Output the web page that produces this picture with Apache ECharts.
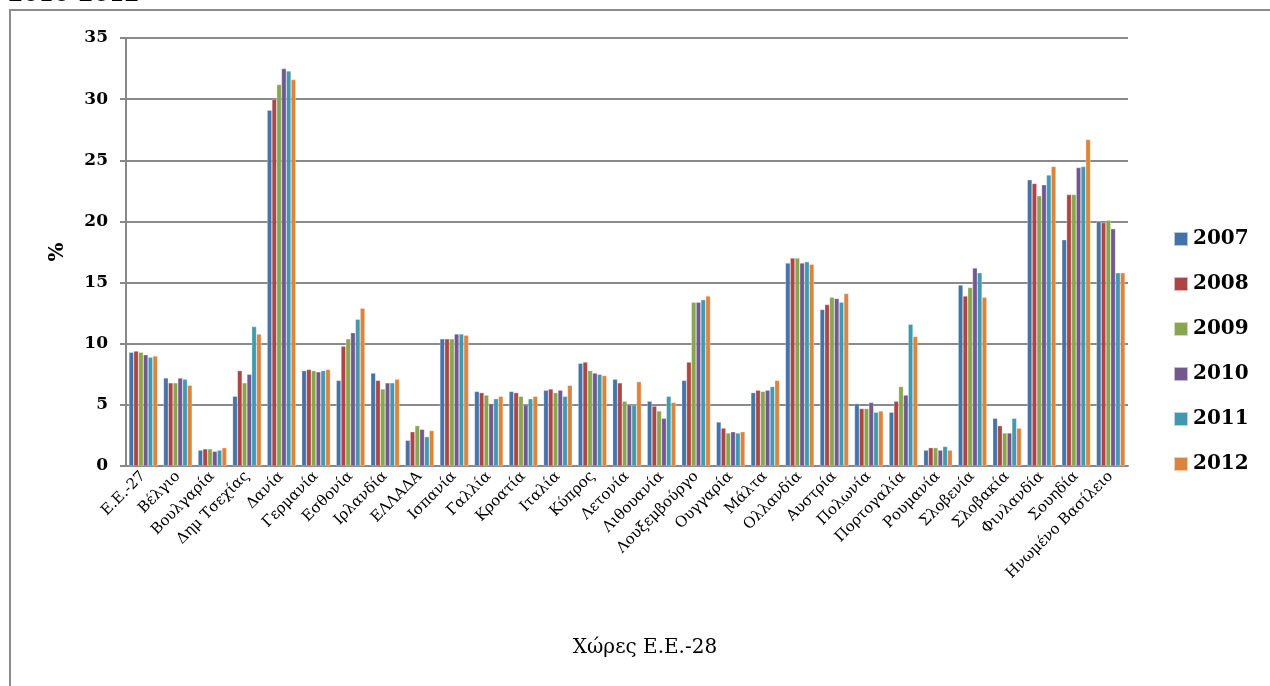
<!DOCTYPE html>
<html>
<head>
<meta charset="utf-8">
<script src="https://cdn.jsdelivr.net/npm/echarts@6/dist/echarts.min.js"></script>
<style>
html,body{margin:0;padding:0;background:#fff;}
#c{width:1270px;height:686px;}
</style>
</head>
<body>
<div id="c"></div>
<script>
const categories = ["Ε.Ε.-27","Βέλγιο","Βουλγαρία","Δημ Τσεχίας","Δανία","Γερμανία","Εσθονία","Ιρλανδία","ΕΛΛΑΔΑ","Ισπανία","Γαλλία","Κροατία","Ιταλία","Κύπρος","Λετονία","Λιθουανία","Λουξεμβούργο","Ουγγαρία","Μάλτα","Ολλανδία","Αυστρία","Πολωνία","Πορτογαλία","Ρουμανία","Σλοβενία","Σλοβακία","Φινλανδία","Σουηδία","Ηνωμένο Βασίλειο"];
const years = ["2007","2008","2009","2010","2011","2012"];
const v2007 = [9.3,7.2,1.3,5.7,29.1,7.8,7.0,7.6,2.1,10.4,6.1,6.1,6.2,8.4,7.1,5.3,7.0,3.6,6.0,16.6,12.8,5.1,4.4,1.3,14.8,3.9,23.4,18.5,20.0];
const v2008 = [9.4,6.8,1.4,7.8,30.0,7.9,9.8,7.0,2.8,10.4,6.0,6.0,6.3,8.5,6.8,4.9,8.5,3.1,6.2,17.0,13.2,4.7,5.3,1.5,13.9,3.3,23.1,22.2,19.9];
const v2009 = [9.3,6.8,1.4,6.8,31.2,7.8,10.4,6.3,3.3,10.4,5.8,5.7,6.0,7.8,5.3,4.5,13.4,2.7,6.1,17.0,13.8,4.7,6.5,1.5,14.6,2.7,22.1,22.2,20.1];
const v2010 = [9.1,7.2,1.2,7.5,32.5,7.7,10.9,6.8,3.0,10.8,5.1,5.0,6.2,7.6,5.0,3.9,13.4,2.8,6.2,16.6,13.7,5.2,5.8,1.3,16.2,2.7,23.0,24.4,19.4];
const v2011 = [8.9,7.1,1.3,11.4,32.3,7.8,12.0,6.8,2.4,10.8,5.5,5.5,5.7,7.5,5.0,5.7,13.6,2.7,6.5,16.7,13.4,4.4,11.6,1.6,15.8,3.9,23.8,24.5,15.8];
const v2012 = [9.0,6.6,1.5,10.8,31.6,7.9,12.9,7.1,2.9,10.7,5.7,5.7,6.6,7.4,6.9,5.2,13.9,2.8,7.0,16.5,14.1,4.5,10.6,1.3,13.8,3.1,24.5,26.7,15.8];
const yTicks = [0,5,10,15,20,25,30,35];
const colors = ["#4572A7","#AA4643","#89A54E","#71588F","#4198AF","#DB843D"];
const seriesData = [v2007,v2008,v2009,v2010,v2011,v2012];

const FONT = "'DejaVu Serif', 'Liberation Serif', serif";
const chart = echarts.init(document.getElementById('c'));
chart.setOption({
  animation: false,
  color: colors,
  textStyle: {fontFamily: FONT},
  graphic: [{
    type: 'rect', silent: true, z: -1,
    shape: {x: 10, y: 10, width: 1300, height: 700},
    style: {fill: 'none', stroke: '#8c8c8c', lineWidth: 2}
  }, {
    type: 'text', silent: true, left: 8, top: -16,
    style: {text: "2010-2012", font: "bold 22px 'DejaVu Serif', serif", fill: '#000'}
  }],
  legend: {
    orient: 'vertical', left: 1168, top: 224,
    itemWidth: 14, itemHeight: 14, itemGap: 25,
    icon: 'rect',
    textStyle: {fontFamily: FONT, fontSize: 20, fontWeight: 'bold', color: '#000'},
    data: years
  },
  grid: {left: 126, right: 142, top: 38, bottom: 220},
  xAxis: {
    type: 'category', data: categories,
    name: "Χώρες Ε.Ε.-28", nameLocation: 'middle', nameGap: 172,
    nameTextStyle: {fontFamily: FONT, fontSize: 20, color: '#000', padding: [0,0,0,36]},
    axisLine: {lineStyle: {color: '#888', width: 2}},
    axisTick: {show: false},
    axisLabel: {rotate: 45, interval: 0, margin: 8, fontFamily: FONT, fontSize: 15, color: '#000'}
  },
  yAxis: {
    type: 'value', min: 0, max: 35, interval: 5,
    name: "%", nameLocation: 'middle', nameGap: 58,
    nameTextStyle: {fontFamily: FONT, fontSize: 20, fontWeight: 'bold', color: '#000'},
    axisLine: {show: true, lineStyle: {color: '#888', width: 2}},
    axisTick: {show: true, length: 6, lineStyle: {color: '#888', width: 2}},
    axisLabel: {margin: 18, fontFamily: FONT, fontSize: 17, fontWeight: 'bold', color: '#000',
      formatter: v => yTicks.includes(v) ? String(v) : ''},
    splitLine: {lineStyle: {color: '#8a8a8a', width: 2}}
  },
  series: years.map((y, i) => ({
    name: y, type: 'bar', data: seriesData[i],
    barGap: '0%', barCategoryGap: '17%',
    itemStyle: {color: colors[i], borderColor: 'rgba(255,255,255,0.6)', borderWidth: 0.5}
  }))
});
</script>
</body>
</html>
